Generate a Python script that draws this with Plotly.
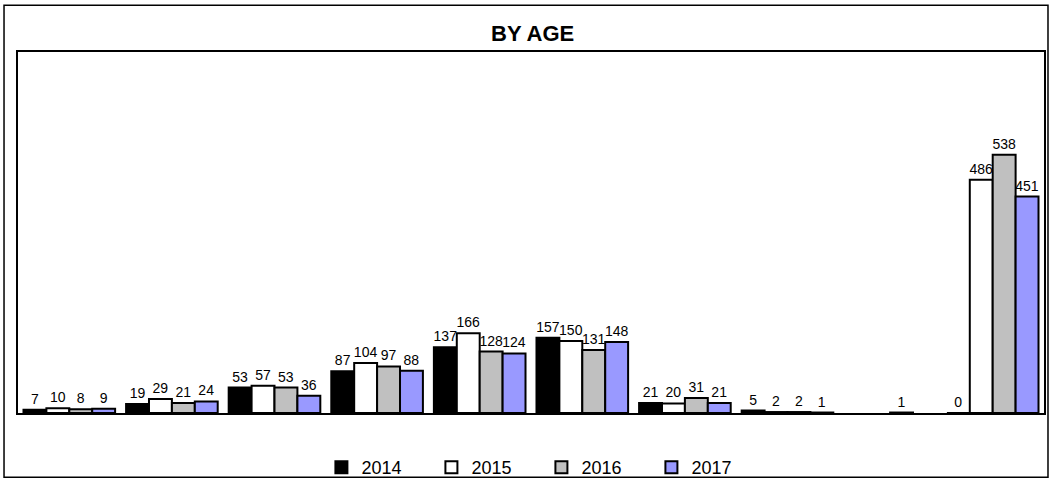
import plotly.graph_objects as go

categories = ["<18", "18-24", "25-34", "35-44", "45-54", "55-64", "65-74", "75-84", "85+", "Unknown"]
years = ["2014", "2015", "2016", "2017"]
v2014 = [7, 19, 53, 87, 137, 157, 21, 5, None, 0]
v2015 = [10, 29, 57, 104, 166, 150, 20, 2, None, 486]
v2016 = [8, 21, 53, 97, 128, 131, 31, 2, 1, 538]
v2017 = [9, 24, 36, 88, 124, 148, 21, 1, None, 451]
series = [v2014, v2015, v2016, v2017]
colors = ["#000000", "#FFFFFF", "#C0C0C0", "#9999FF"]

FONT = "Arial, Liberation Sans, sans-serif"

fig = go.Figure()
for name, vals, col in zip(years, series, colors):
    fig.add_trace(go.Bar(
        name=name, x=categories, y=vals,
        marker=dict(color=col, line=dict(color="#000000", width=2)),
        text=[("" if v is None else str(v)) for v in vals],
        textposition="outside", cliponaxis=False, constraintext="none",
        textfont=dict(family=FONT, size=14, color="#000000"),
        hoverinfo="x+y+name",
    ))

W, H = 1051, 491
ml, mr, mt, mb = 18, 5, 52, 68
pw, ph = W - ml - mr, H - mt - mb

def px(xp):
    return (xp - ml) / pw

def py(yp):
    return (H - mb - yp) / ph

fig.update_layout(
    width=W, height=H,
    margin=dict(l=ml, r=mr, t=mt, b=mb),
    paper_bgcolor="#FFFFFF", plot_bgcolor="#FFFFFF",
    barmode="group", bargap=0.107, bargroupgap=0,
    title=dict(text="<b>BY AGE</b>", x=px(539), xanchor="center",
               y=1 - 33 / H, yanchor="middle",
               font=dict(family=FONT, size=22, color="#000000")),
    xaxis=dict(showticklabels=False, ticks="", showgrid=False, zeroline=False,
               showline=True, mirror=True, linecolor="#000000", linewidth=2),
    yaxis=dict(range=[0, 752], showticklabels=False, ticks="", showgrid=False,
               zeroline=False, showline=True, mirror=True,
               linecolor="#000000", linewidth=2),
    legend=dict(orientation="h", x=px(322), xanchor="left", y=py(479), yanchor="middle",
                font=dict(family=FONT, size=18, color="#000000"),
                itemwidth=30, entrywidth=65, entrywidthmode="pixels",
                bgcolor="rgba(0,0,0,0)", traceorder="normal"),
    shapes=[dict(type="rect", xref="paper", yref="paper",
                 x0=px(4), x1=px(1050), y0=py(489), y1=py(4),
                 line=dict(color="#000000", width=1.5), layer="below")],
    font=dict(family=FONT),
)

post = (
    "document.body.style.margin='0';"
    "document.documentElement.style.overflow='hidden';"
    "document.body.style.overflow='hidden';"
    "var gd=document.getElementById('{plot_id}');"
    "gd.style.position='fixed';gd.style.top='0px';gd.style.left='0px';"
)
fig.write_html("out.html", config={"displayModeBar": False}, post_script=post)
